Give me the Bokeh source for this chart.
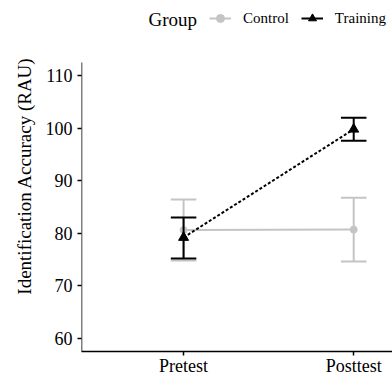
from bokeh.plotting import figure
from bokeh.models import Range1d, FixedTicker, Legend, LegendItem, ColumnDataSource, Label
from bokeh.embed import file_html
from bokeh.resources import INLINE

categories = ["Pretest", "Posttest"]
control_mean = [80.6, 80.7]
control_lo = [74.8, 74.65]
control_hi = [86.45, 86.75]
training_mean = [79.2, 99.8]
training_lo = [75.2, 97.6]
training_hi = [83.0, 102.0]
y_ticks = [60, 70, 80, 90, 100, 110]
group_labels = ["Control", "Training"]
legend_title = "Group"

xpos = list(range(1, len(categories) + 1))
cap = 0.075
FONT = "Liberation Serif"
GREY = "#c4c4c4"
BLACK = "#000000"

X0, X1 = 0.4, 2.228
Y0, YTOP, YVIEW = 57.5, 112.5, 124.3

p = figure(width=392, height=378, output_backend="svg", toolbar_location=None,
           x_range=Range1d(X0, X1), y_range=Range1d(Y0, YVIEW),
           min_border_left=81, min_border_right=0, min_border_top=0, min_border_bottom=27)
p.outline_line_color = None
p.xgrid.visible = False
p.ygrid.visible = False

# y axis line only up to the panel top
p.segment(x0=[X0], y0=[Y0], x1=[X0], y1=[YTOP], line_color=BLACK, line_width=1.5)

def src(m, lo, hi):
    return ColumnDataSource(dict(x=xpos, m=m, lo=lo, hi=hi,
                                 xl=[v - cap for v in xpos], xr=[v + cap for v in xpos]))

cs = src(control_mean, control_lo, control_hi)
ts = src(training_mean, training_lo, training_hi)

# Control
c_line = p.line("x", "m", source=cs, line_color=GREY, line_width=2)
p.segment("x", "lo", "x", "hi", source=cs, line_color=GREY, line_width=2)
p.segment("xl", "lo", "xr", "lo", source=cs, line_color=GREY, line_width=2)
p.segment("xl", "hi", "xr", "hi", source=cs, line_color=GREY, line_width=2)
c_pts = p.scatter("x", "m", source=cs, marker="circle", size=7, fill_color=GREY, line_color=GREY)

# Training
p.line("x", "m", source=ts, line_color=BLACK, line_width=2, line_dash="3 2")
p.segment("x", "lo", "x", "hi", source=ts, line_color=BLACK, line_width=2)
p.segment("xl", "lo", "xr", "lo", source=ts, line_color=BLACK, line_width=2)
p.segment("xl", "hi", "xr", "hi", source=ts, line_color=BLACK, line_width=2)
t_pts = p.scatter("x", "m", source=ts, marker="triangle", size=10, fill_color=BLACK, line_color=BLACK)

nan_src = ColumnDataSource(dict(x=[float("nan")], y=[float("nan")]))
t_leg_line = p.line("x", "y", source=nan_src, line_color=BLACK, line_width=2)

legend = Legend(items=[LegendItem(label=group_labels[0], renderers=[c_line, c_pts]),
                       LegendItem(label=group_labels[1], renderers=[t_leg_line, t_pts])],
                location=(128, 323), orientation="horizontal",
                label_text_font=FONT, label_text_font_size="15px", label_text_color=BLACK,
                glyph_width=22, glyph_height=20, label_standoff=12, spacing=12,
                padding=0, margin=0, background_fill_alpha=0, border_line_color=None)
p.add_layout(legend, "center")

p.add_layout(Label(x=67, y=332, x_units="screen", y_units="screen", text=legend_title,
                   text_font=FONT, text_font_size="19px", text_color=BLACK,
                   text_baseline="middle", text_align="left"))

for ax in (p.xaxis[0], p.yaxis[0]):
    ax.axis_line_color = BLACK
    ax.axis_line_width = 1.5
    ax.major_tick_line_color = BLACK
    ax.major_tick_line_width = 1.5
    ax.major_tick_out = 4
    ax.major_tick_in = 0
    ax.minor_tick_line_color = None
    ax.major_label_text_font = FONT
    ax.major_label_text_font_size = "18px"
    ax.major_label_text_color = BLACK

p.yaxis.axis_line_color = None
p.xaxis.ticker = FixedTicker(ticks=xpos)
p.xaxis.major_label_overrides = {v: c for v, c in zip(xpos, categories)}
p.xaxis.major_label_standoff = 0
p.yaxis.ticker = FixedTicker(ticks=y_ticks)
p.yaxis.major_label_standoff = 5
p.yaxis.axis_label = "Identification Accuracy (RAU)"
p.yaxis.axis_label_text_font = FONT
p.yaxis.axis_label_text_font_size = "19px"
p.yaxis.axis_label_text_font_style = "normal"
p.yaxis.axis_label_text_color = BLACK
p.yaxis.axis_label_standoff = 8

open("out.html", "w").write(file_html(p, INLINE))
